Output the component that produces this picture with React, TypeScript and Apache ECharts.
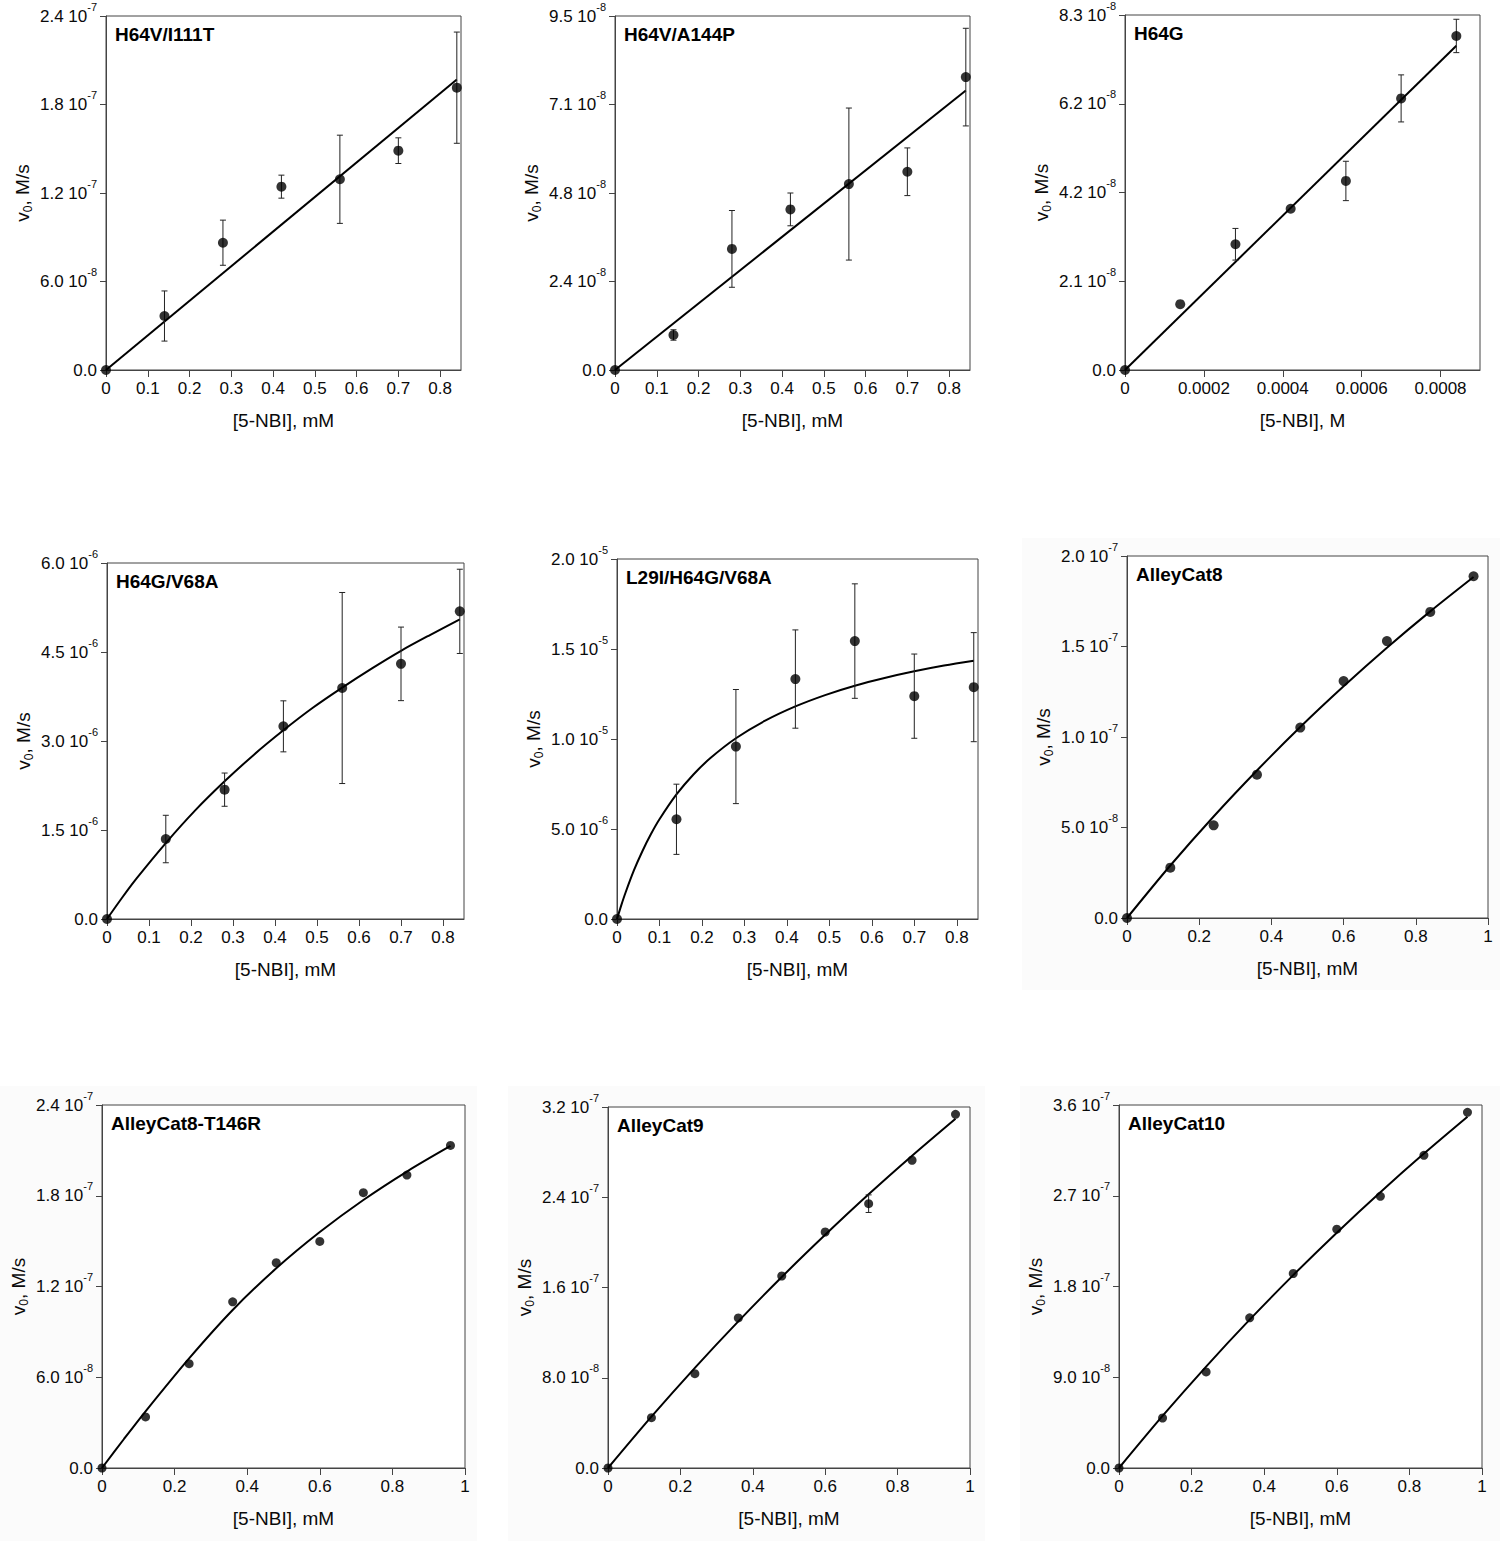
import React, { useEffect, useRef } from 'react';
import * as echarts from 'echarts';

const FONT = '"Liberation Sans", Arial, Helvetica, sans-serif';

// ---------- shared x values ----------
const xSeven = [0, 0.14, 0.28, 0.42, 0.56, 0.7, 0.84];
const xSevenM = [0, 0.00014, 0.00028, 0.00042, 0.00056, 0.0007, 0.00084];
const xNine = [0, 0.12, 0.24, 0.36, 0.48, 0.6, 0.72, 0.84, 0.96];

// ---------- panel 1: H64V/I111T ----------
const p1Y = [0, 3.66e-8, 8.63e-8, 1.243e-7, 1.293e-7, 1.487e-7, 1.914e-7];
const p1Err = [0, 1.7e-8, 1.53e-8, 0.78e-8, 2.99e-8, 0.87e-8, 3.77e-8];
const p1FitX = [0, 0.84];
const p1FitY = [0, 1.97e-7];

// ---------- panel 2: H64V/A144P ----------
const p2Y = [0, 0.94e-8, 3.25e-8, 4.31e-8, 4.99e-8, 5.32e-8, 7.86e-8];
const p2Err = [0, 0.14e-8, 1.03e-8, 0.44e-8, 2.04e-8, 0.64e-8, 1.31e-8];
const p2FitX = [0, 0.84];
const p2FitY = [0, 7.5e-8];

// ---------- panel 3: H64G ----------
const p3Y = [0, 1.54e-8, 2.94e-8, 3.77e-8, 4.42e-8, 6.35e-8, 7.81e-8];
const p3Err = [0, 0, 0.37e-8, 0, 0.46e-8, 0.55e-8, 0.39e-8];
const p3FitX = [0, 0.00084];
const p3FitY = [0, 7.58e-8];

// ---------- panel 4: H64G/V68A ----------
const p4Y = [0, 1.348e-6, 2.18e-6, 3.247e-6, 3.893e-6, 4.3e-6, 5.185e-6];
const p4Err = [0, 0.4e-6, 0.28e-6, 0.43e-6, 1.61e-6, 0.62e-6, 0.71e-6];
const p4FitX = [0, 0.035, 0.07, 0.14, 0.21, 0.28, 0.35, 0.42, 0.49, 0.56, 0.63, 0.7, 0.77, 0.84];
const p4FitY = [0, 0.35e-6, 0.68e-6, 1.28e-6, 1.83e-6, 2.32e-6, 2.77e-6, 3.18e-6, 3.56e-6, 3.9e-6, 4.22e-6, 4.52e-6, 4.79e-6, 5.05e-6];

// ---------- panel 5: L29I/H64G/V68A ----------
const p5Y = [0, 5.54e-6, 9.58e-6, 13.33e-6, 15.44e-6, 12.38e-6, 12.88e-6];
const p5Err = [0, 1.95e-6, 3.17e-6, 2.73e-6, 3.18e-6, 2.34e-6, 3.03e-6];
const p5FitX = [0, 0.01, 0.02, 0.04, 0.06, 0.08, 0.1, 0.14, 0.18, 0.22, 0.28, 0.35, 0.42, 0.49, 0.56, 0.63, 0.7, 0.77, 0.84];
const p5FitY = [0, 0.76e-6, 1.46e-6, 2.71e-6, 3.78e-6, 4.72e-6, 5.54e-6, 6.92e-6, 8.03e-6, 8.94e-6, 10.04e-6, 11.03e-6, 11.81e-6, 12.44e-6, 12.96e-6, 13.39e-6, 13.76e-6, 14.08e-6, 14.35e-6];

// ---------- panel 6: AlleyCat8 ----------
const p6Y = [0, 0.278e-7, 0.512e-7, 0.792e-7, 1.052e-7, 1.309e-7, 1.53e-7, 1.691e-7, 1.888e-7];
const p6Err = [0, 0, 0, 0, 0, 0, 0, 0, 0];
const p6FitX = [0, 0.12, 0.24, 0.36, 0.48, 0.6, 0.72, 0.84, 0.96];
const p6FitY = [0, 0.29e-7, 0.561e-7, 0.815e-7, 1.055e-7, 1.28e-7, 1.493e-7, 1.694e-7, 1.884e-7];

// ---------- panel 7: AlleyCat8-T146R ----------
const p7Y = [0, 0.3375e-7, 0.69e-7, 1.099e-7, 1.357e-7, 1.498e-7, 1.82e-7, 1.937e-7, 2.133e-7];
const p7Err = [0, 0, 0, 0, 0, 0, 0, 0, 0];
const p7FitX = [0, 0.06, 0.12, 0.24, 0.36, 0.48, 0.6, 0.72, 0.84, 0.96];
const p7FitY = [0, 0.19e-7, 0.375e-7, 0.725e-7, 1.045e-7, 1.32e-7, 1.56e-7, 1.772e-7, 1.96e-7, 2.129e-7];

// ---------- panel 8: AlleyCat9 ----------
const p8Y = [0, 0.446e-7, 0.836e-7, 1.33e-7, 1.702e-7, 2.092e-7, 2.343e-7, 2.728e-7, 3.135e-7];
const p8Err = [0, 0, 0, 0, 0, 0, 0.078e-7, 0, 0];
const p8FitX = [0, 0.12, 0.24, 0.36, 0.48, 0.6, 0.72, 0.84, 0.96];
const p8FitY = [0, 0.455e-7, 0.888e-7, 1.3e-7, 1.693e-7, 2.067e-7, 2.426e-7, 2.768e-7, 3.096e-7];

// ---------- panel 9: AlleyCat10 ----------
const p9Y = [0, 0.496e-7, 0.953e-7, 1.489e-7, 1.929e-7, 2.369e-7, 2.694e-7, 3.101e-7, 3.527e-7];
const p9Err = [0, 0, 0, 0, 0, 0, 0, 0, 0];
const p9FitX = [0, 0.12, 0.24, 0.36, 0.48, 0.6, 0.72, 0.84, 0.96];
const p9FitY = [0, 0.516e-7, 1.006e-7, 1.471e-7, 1.913e-7, 2.334e-7, 2.735e-7, 3.118e-7, 3.484e-7];

// ---------- tick labels ----------
const xTicksA = [0, 0.1, 0.2, 0.3, 0.4, 0.5, 0.6, 0.7, 0.8];
const xTickTextA = ['0', '0.1', '0.2', '0.3', '0.4', '0.5', '0.6', '0.7', '0.8'];
const xTicksM = [0, 0.0002, 0.0004, 0.0006, 0.0008];
const xTickTextM = ['0', '0.0002', '0.0004', '0.0006', '0.0008'];
const xTicksB = [0, 0.2, 0.4, 0.6, 0.8, 1];
const xTickTextB = ['0', '0.2', '0.4', '0.6', '0.8', '1'];

const y1Ticks = [0, 6e-8, 1.2e-7, 1.8e-7, 2.4e-7];
const y1Mant = ['0.0', '6.0', '1.2', '1.8', '2.4'];
const y1Exp = ['', '-8', '-7', '-7', '-7'];
const y2Ticks = [0, 2.375e-8, 4.75e-8, 7.125e-8, 9.5e-8];
const y2Mant = ['0.0', '2.4', '4.8', '7.1', '9.5'];
const y2Exp = ['', '-8', '-8', '-8', '-8'];
const y3Ticks = [0, 2.075e-8, 4.15e-8, 6.225e-8, 8.3e-8];
const y3Mant = ['0.0', '2.1', '4.2', '6.2', '8.3'];
const y3Exp = ['', '-8', '-8', '-8', '-8'];
const y4Ticks = [0, 1.5e-6, 3e-6, 4.5e-6, 6e-6];
const y4Mant = ['0.0', '1.5', '3.0', '4.5', '6.0'];
const y4Exp = ['', '-6', '-6', '-6', '-6'];
const y5Ticks = [0, 5e-6, 1e-5, 1.5e-5, 2e-5];
const y5Mant = ['0.0', '5.0', '1.0', '1.5', '2.0'];
const y5Exp = ['', '-6', '-5', '-5', '-5'];
const y6Ticks = [0, 5e-8, 1e-7, 1.5e-7, 2e-7];
const y6Mant = ['0.0', '5.0', '1.0', '1.5', '2.0'];
const y6Exp = ['', '-8', '-7', '-7', '-7'];
const y7Ticks = [0, 6e-8, 1.2e-7, 1.8e-7, 2.4e-7];
const y7Mant = ['0.0', '6.0', '1.2', '1.8', '2.4'];
const y7Exp = ['', '-8', '-7', '-7', '-7'];
const y8Ticks = [0, 8e-8, 1.6e-7, 2.4e-7, 3.2e-7];
const y8Mant = ['0.0', '8.0', '1.6', '2.4', '3.2'];
const y8Exp = ['', '-8', '-7', '-7', '-7'];
const y9Ticks = [0, 9e-8, 1.8e-7, 2.7e-7, 3.6e-7];
const y9Mant = ['0.0', '9.0', '1.8', '2.7', '3.6'];
const y9Exp = ['', '-8', '-7', '-7', '-7'];

const titles = ['H64V/I111T', 'H64V/A144P', 'H64G', 'H64G/V68A', 'L29I/H64G/V68A', 'AlleyCat8', 'AlleyCat8-T146R', 'AlleyCat9', 'AlleyCat10'];
const xNames = ['[5-NBI], mM', '[5-NBI], mM', '[5-NBI], M', '[5-NBI], mM', '[5-NBI], mM', '[5-NBI], mM', '[5-NBI], mM', '[5-NBI], mM', '[5-NBI], mM'];

type PanelData = {
  x: number[]; y: number[]; err: number[]; fitX: number[]; fitY: number[]; smooth: boolean;
  xTicks: number[]; xText: string[]; xMax: number;
  yTicks: number[]; yMant: string[]; yExp: string[];
};

const panels: PanelData[] = [
  { x: xSeven, y: p1Y, err: p1Err, fitX: p1FitX, fitY: p1FitY, smooth: false, xTicks: xTicksA, xText: xTickTextA, xMax: 0.85, yTicks: y1Ticks, yMant: y1Mant, yExp: y1Exp },
  { x: xSeven, y: p2Y, err: p2Err, fitX: p2FitX, fitY: p2FitY, smooth: false, xTicks: xTicksA, xText: xTickTextA, xMax: 0.85, yTicks: y2Ticks, yMant: y2Mant, yExp: y2Exp },
  { x: xSevenM, y: p3Y, err: p3Err, fitX: p3FitX, fitY: p3FitY, smooth: false, xTicks: xTicksM, xText: xTickTextM, xMax: 0.0009, yTicks: y3Ticks, yMant: y3Mant, yExp: y3Exp },
  { x: xSeven, y: p4Y, err: p4Err, fitX: p4FitX, fitY: p4FitY, smooth: true, xTicks: xTicksA, xText: xTickTextA, xMax: 0.85, yTicks: y4Ticks, yMant: y4Mant, yExp: y4Exp },
  { x: xSeven, y: p5Y, err: p5Err, fitX: p5FitX, fitY: p5FitY, smooth: true, xTicks: xTicksA, xText: xTickTextA, xMax: 0.85, yTicks: y5Ticks, yMant: y5Mant, yExp: y5Exp },
  { x: xNine, y: p6Y, err: p6Err, fitX: p6FitX, fitY: p6FitY, smooth: true, xTicks: xTicksB, xText: xTickTextB, xMax: 1, yTicks: y6Ticks, yMant: y6Mant, yExp: y6Exp },
  { x: xNine, y: p7Y, err: p7Err, fitX: p7FitX, fitY: p7FitY, smooth: true, xTicks: xTicksB, xText: xTickTextB, xMax: 1, yTicks: y7Ticks, yMant: y7Mant, yExp: y7Exp },
  { x: xNine, y: p8Y, err: p8Err, fitX: p8FitX, fitY: p8FitY, smooth: true, xTicks: xTicksB, xText: xTickTextB, xMax: 1, yTicks: y8Ticks, yMant: y8Mant, yExp: y8Exp },
  { x: xNine, y: p9Y, err: p9Err, fitX: p9FitX, fitY: p9FitY, smooth: true, xTicks: xTicksB, xText: xTickTextB, xMax: 1, yTicks: y9Ticks, yMant: y9Mant, yExp: y9Exp },
];

// layout (pixels)
const grids = [
  { left: 106, top: 16, width: 355, height: 354 },
  { left: 615, top: 16, width: 355, height: 354 },
  { left: 1125, top: 15, width: 355, height: 355 },
  { left: 107, top: 563, width: 357, height: 356 },
  { left: 617, top: 559, width: 361, height: 360 },
  { left: 1127, top: 556, width: 361, height: 362 },
  { left: 102, top: 1105, width: 363, height: 363 },
  { left: 608, top: 1107, width: 362, height: 361 },
  { left: 1119, top: 1105, width: 363, height: 363 },
];
const bgRects = [
  { x: 1022, y: 538, width: 478, height: 452 },
  { x: 0, y: 1086, width: 477, height: 455 },
  { x: 508, y: 1086, width: 477, height: 455 },
  { x: 1020, y: 1086, width: 480, height: 455 },
];

const TEXT = '#0a0a0a';
const AXIS = '#444';

export default function App() {
  const ref = useRef<HTMLDivElement>(null);
  useEffect(() => {
    const chart = echarts.init(ref.current!, null, { renderer: 'svg' });

    const xAxis: any[] = [];
    const yAxis: any[] = [];
    const series: any[] = [];
    const graphic: any[] = [];

    bgRects.forEach((r) => {
      graphic.push({ type: 'rect', shape: r, style: { fill: '#fbfbfb' }, z: -10, silent: true });
    });

    panels.forEach((p, i) => {
      const yMax = p.yTicks[p.yTicks.length - 1];
      xAxis.push({
        type: 'value', gridIndex: i, min: 0, max: p.xMax,
        axisLine: { show: true, onZero: false, lineStyle: { color: AXIS, width: 1 } },
        axisTick: { show: true, inside: false, length: 7, customValues: p.xTicks, lineStyle: { color: AXIS, width: 1 } },
        axisLabel: {
          show: true, margin: 10, customValues: p.xTicks, color: TEXT, fontSize: 17, fontFamily: FONT,
          formatter: (v: number) => {
            const k = p.xTicks.findIndex((t) => Math.abs(t - v) < p.xMax * 1e-6);
            return k >= 0 ? p.xText[k] : '';
          },
        },
        splitLine: { show: false },
        name: xNames[i], nameLocation: 'middle', nameGap: 41,
        nameTextStyle: { color: TEXT, fontSize: 19, fontFamily: FONT },
      });
      yAxis.push({
        type: 'value', gridIndex: i, min: 0, max: yMax,
        axisLine: { show: true, onZero: false, lineStyle: { color: AXIS, width: 1 } },
        axisTick: { show: true, inside: false, length: 6, customValues: p.yTicks, lineStyle: { color: AXIS, width: 1 } },
        axisLabel: {
          show: true, margin: 9, customValues: p.yTicks,
          formatter: (v: number) => {
            const k = p.yTicks.findIndex((t) => Math.abs(t - v) < yMax * 1e-6);
            if (k < 0) return '';
            return p.yExp[k] ? `{m|${p.yMant[k]} 10}{s|${p.yExp[k]}}` : `{m|${p.yMant[k]}}`;
          },
          rich: {
            m: { fontSize: 17, fontFamily: FONT, color: TEXT, lineHeight: 30 },
            s: { fontSize: 11, fontFamily: FONT, color: TEXT, lineHeight: 12, verticalAlign: 'top' },
          },
        },
        splitLine: { show: false },
        name: '{v|v}{sub|0}{v|, M/s}', nameLocation: 'middle', nameRotate: 90, nameGap: 72,
        nameTextStyle: {
          rich: {
            v: { fontSize: 19, fontFamily: FONT, color: TEXT, lineHeight: 24 },
            sub: { fontSize: 12, fontFamily: FONT, color: TEXT, lineHeight: 12, verticalAlign: 'bottom' },
          },
        },
      });

      series.push({
        type: 'line', xAxisIndex: i, yAxisIndex: i, z: 3, silent: true,
        showSymbol: false, symbol: 'none', smooth: p.smooth ? 0.3 : false,
        lineStyle: { color: '#000', width: 2 },
        data: p.fitX.map((x, j) => [x, p.fitY[j]]),
      });
      series.push({
        type: 'custom', xAxisIndex: i, yAxisIndex: i, z: 4, silent: true,
        data: p.x.map((x, j) => [x, p.y[j], p.err[j]]),
        renderItem: (params: any, api: any) => {
          const x = api.value(0);
          const y = api.value(1);
          const e = api.value(2);
          if (!e) return null;
          const top = api.coord([x, y + e]);
          const bot = api.coord([x, y - e]);
          const cw = 3;
          const st = { stroke: '#222', lineWidth: 1 };
          return {
            type: 'group',
            children: [
              { type: 'line', shape: { x1: top[0], y1: top[1], x2: bot[0], y2: bot[1] }, style: st },
              { type: 'line', shape: { x1: top[0] - cw, y1: top[1], x2: top[0] + cw, y2: top[1] }, style: st },
              { type: 'line', shape: { x1: bot[0] - cw, y1: bot[1], x2: bot[0] + cw, y2: bot[1] }, style: st },
            ],
          };
        },
      });
      series.push({
        type: 'scatter', xAxisIndex: i, yAxisIndex: i, z: 5, silent: true,
        symbol: 'circle', symbolSize: i < 6 ? 10 : 9, clip: false,
        itemStyle: { color: '#000' },
        data: p.x.map((x, j) => [x, p.y[j]]),
      });

      const g = grids[i];
      graphic.push({
        type: 'text', x: g.left + 9, y: g.top + 18, z: 100, silent: true,
        style: { text: titles[i], fill: '#000', font: `bold 19px ${FONT}`, verticalAlign: 'middle', align: 'left' },
      });
    });

    chart.setOption({
      animation: false,
      backgroundColor: '#fff',
      grid: grids.map((g) => ({ ...g, show: true, borderColor: AXIS, borderWidth: 1, backgroundColor: '#fff', containLabel: false })),
      xAxis,
      yAxis,
      series,
      graphic: { elements: graphic },
    });
    return () => chart.dispose();
  }, []);
  return (
    <div
      ref={ref}
      style={{ position: 'absolute', left: 0, top: 0, width: 1500, height: 1541, background: '#fff' }}
    />
  );
}
